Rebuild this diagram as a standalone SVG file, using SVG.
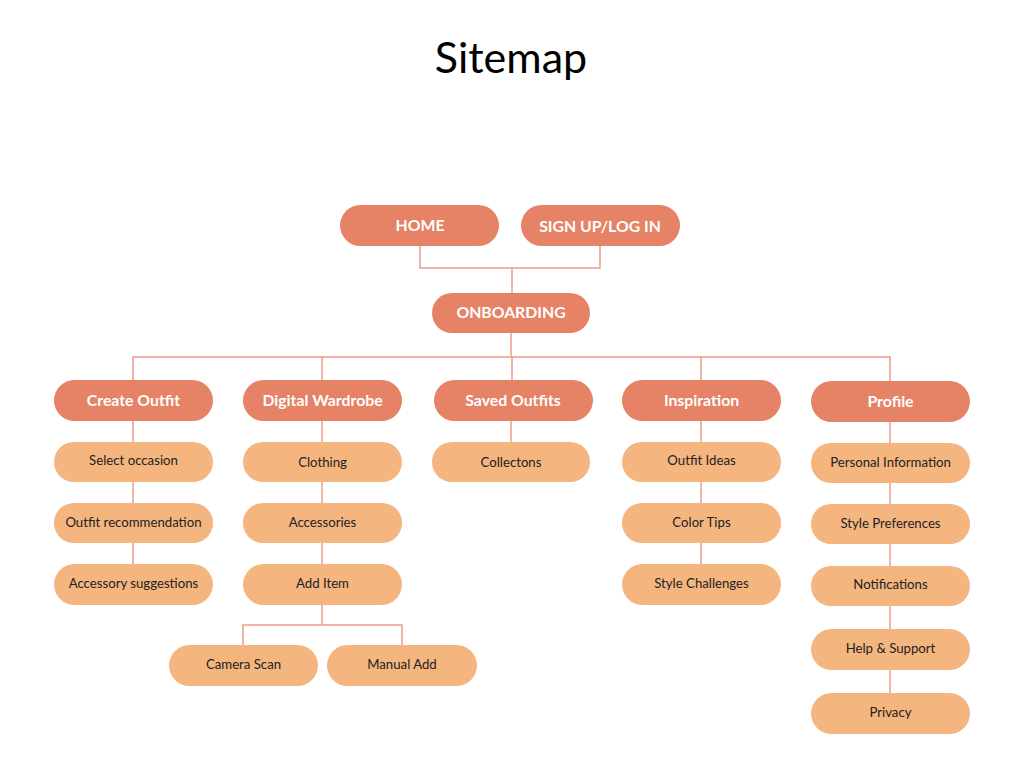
<svg xmlns="http://www.w3.org/2000/svg" width="1024" height="768" viewBox="0 0 1024 768">
<style>
.bg{fill:#ffffff}
.main rect{fill:#E68266}
.sub rect{fill:#F4B57F}
.main text{fill:#ffffff;font-family:Lato,"Open Sans",sans-serif;font-weight:bold;font-size:15.8px;text-anchor:middle;dominant-baseline:central}
.sub text{fill:#222222;font-family:Lato,"Open Sans",sans-serif;font-size:13.2px;text-anchor:middle;dominant-baseline:central}
.title{fill:#000000;font-family:Lato,"Open Sans",sans-serif;font-size:43px;text-anchor:middle}
#connectors path{fill:none;stroke:#EC9C88;stroke-width:1.5}
</style>
<rect class="bg" x="0" y="0" width="1024" height="768"/>
<text class="title" x="511" y="73">Sitemap</text>
<g id="connectors">
<path d="M420 245 V268 H600 V245"/>
<path d="M512 268 V293"/>
<path d="M511 333 V357"/>
<path d="M133 380 V357 H890 V381"/>
<path d="M322 357 V380"/>
<path d="M512 357 V380"/>
<path d="M701 357 V380"/>
<path d="M133 421 V564"/>
<path d="M322 421 V564"/>
<path d="M322 605 V625"/>
<path d="M243 645 V625 H402 V645"/>
<path d="M511 421 V442"/>
<path d="M701 421 V564"/>
<path d="M890 422 V693"/>
</g>
<g id="home" class="main"><rect x="340" y="205" width="159" height="41" rx="20.5"/><text x="420" y="224">HOME</text></g>
<g id="signup" class="main"><rect x="521" y="205" width="159" height="41" rx="20.5"/><text x="600" y="225">SIGN UP/LOG IN</text></g>
<g id="onboarding" class="main"><rect x="432" y="293" width="158" height="40" rx="20"/><text x="511" y="311">ONBOARDING</text></g>
<g id="create-outfit" class="main"><rect x="54" y="380" width="159" height="41" rx="20.5"/><text x="133.5" y="399">Create Outfit</text></g>
<g id="digital-wardrobe" class="main"><rect x="243" y="380" width="159" height="41" rx="20.5"/><text x="322.5" y="399">Digital Wardrobe</text></g>
<g id="saved-outfits" class="main"><rect x="434" y="380" width="159" height="41" rx="20.5"/><text x="513" y="399">Saved Outfits</text></g>
<g id="inspiration" class="main"><rect x="622" y="380" width="159" height="41" rx="20.5"/><text x="701.5" y="399">Inspiration</text></g>
<g id="profile" class="main"><rect x="811" y="381" width="159" height="41" rx="20.5"/><text x="890.5" y="400">Profile</text></g>
<g id="select-occasion" class="sub"><rect x="54" y="442" width="159" height="40" rx="20"/><text x="133.5" y="460">Select occasion</text></g>
<g id="outfit-recommendation" class="sub"><rect x="54" y="503" width="159" height="40" rx="20"/><text x="133.5" y="522">Outfit recommendation</text></g>
<g id="accessory-suggestions" class="sub"><rect x="54" y="564" width="159" height="41" rx="20.5"/><text x="133.5" y="583">Accessory suggestions</text></g>
<g id="clothing" class="sub"><rect x="243" y="442" width="159" height="40" rx="20"/><text x="322.5" y="462">Clothing</text></g>
<g id="accessories" class="sub"><rect x="243" y="503" width="159" height="40" rx="20"/><text x="322.5" y="522">Accessories</text></g>
<g id="add-item" class="sub"><rect x="243" y="564" width="159" height="41" rx="20.5"/><text x="322.5" y="583">Add Item</text></g>
<g id="camera-scan" class="sub"><rect x="169" y="645" width="149" height="41" rx="20.5"/><text x="243.5" y="664">Camera Scan</text></g>
<g id="manual-add" class="sub"><rect x="327" y="645" width="150" height="41" rx="20.5"/><text x="402" y="664">Manual Add</text></g>
<g id="collections" class="sub"><rect x="432" y="442" width="158" height="40" rx="20"/><text x="511" y="462">Collectons</text></g>
<g id="outfit-ideas" class="sub"><rect x="622" y="442" width="159" height="40" rx="20"/><text x="701.5" y="460">Outfit Ideas</text></g>
<g id="color-tips" class="sub"><rect x="622" y="503" width="159" height="40" rx="20"/><text x="701.5" y="522">Color Tips</text></g>
<g id="style-challenges" class="sub"><rect x="622" y="564" width="159" height="41" rx="20.5"/><text x="701.5" y="583">Style Challenges</text></g>
<g id="personal-information" class="sub"><rect x="811" y="443" width="159" height="40" rx="20"/><text x="890.5" y="462">Personal Information</text></g>
<g id="style-preferences" class="sub"><rect x="811" y="504" width="159" height="40" rx="20"/><text x="890.5" y="523">Style Preferences</text></g>
<g id="notifications" class="sub"><rect x="811" y="566" width="159" height="40" rx="20"/><text x="890.5" y="584">Notifications</text></g>
<g id="help-support" class="sub"><rect x="811" y="629" width="159" height="41" rx="20.5"/><text x="890.5" y="648">Help &amp; Support</text></g>
<g id="privacy" class="sub"><rect x="811" y="693" width="159" height="41" rx="20.5"/><text x="890.5" y="712">Privacy</text></g>
</svg>
